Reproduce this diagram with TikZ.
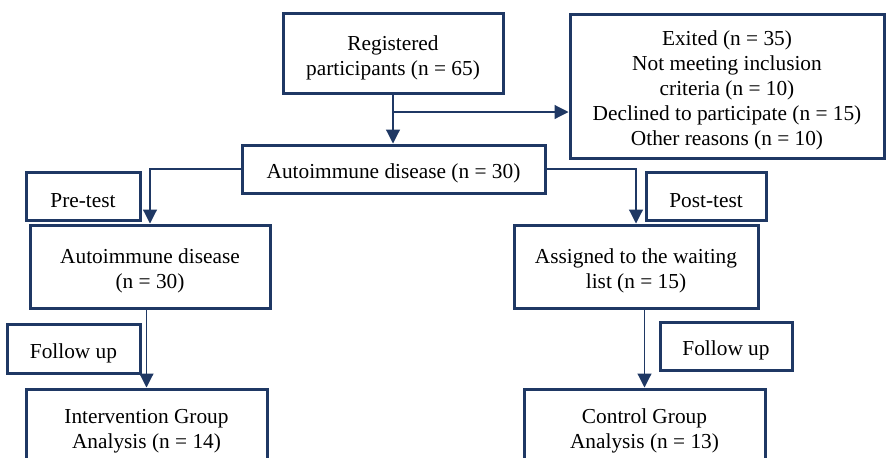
\documentclass[tikz,border=0pt]{standalone}
\usepackage{fontspec}
\setmainfont{Liberation Serif}
\usetikzlibrary{arrows.meta}
\newcommand\tstrut{\rule{0pt}{14.5pt}}
\tikzset{
  box/.style = {draw = navy, line width = 1.8pt, align = center, inner sep = 0pt, font = \fontsize{12.8pt}{15pt}\selectfont},
  arr/.style = {draw = navy, line width = 0.7pt, -{Triangle[width = 8.4pt, length = 8.4pt]}}
}
\begin{document}
\begin{tikzpicture}[x = 0.6pt, y = -0.6pt]
\definecolor{navy}{HTML}{1F3864}
\useasboundingbox (0, 0) rectangle (886, 457);
\node[box, minimum width = 132pt, minimum height = 48pt] (reg) at (393, 53) {\tstrut Registered\\participants (n = 65)};
\node[box, minimum width = 188.4pt, minimum height = 86.4pt] (exit) at (727, 86) {\tstrut Exited (n = 35)\\Not meeting inclusion\\criteria (n = 10)\\Declined to participate (n = 15)\\Other reasons (n = 10)};
\node[box, minimum width = 181.8pt, minimum height = 28.8pt] (auto) at (393.5, 169) {\tstrut Autoimmune disease (n = 30)};
\node[box, minimum width = 68.4pt, minimum height = 28.8pt] (pre) at (83, 196) {\tstrut Pre-test};
\node[box, minimum width = 72pt, minimum height = 28.8pt] (post) at (706, 196) {\tstrut Post-test};
\node[box, minimum width = 144pt, minimum height = 49.8pt] (autoL) at (150, 266.5) {\tstrut Autoimmune disease\\(n = 30)};
\node[box, minimum width = 146.4pt, minimum height = 49.8pt] (wait) at (636, 266.5) {\tstrut Assigned to the waiting\\list (n = 15)};
\node[box, minimum width = 79.8pt, minimum height = 29.4pt] (fupL) at (73.5, 348.5) {\tstrut Follow up};
\node[box, minimum width = 79.2pt, minimum height = 28.8pt] (fupR) at (726, 346) {\tstrut Follow up};
\node[box, minimum width = 144.6pt, minimum height = 44.4pt] (interv) at (146.5, 426) {\tstrut Intervention Group\\Analysis (n = 14)};
\node[box, minimum width = 144.6pt, minimum height = 44.4pt] (ctrl) at (644.5, 426) {\tstrut Control Group\\Analysis (n = 13)};
\coordinate (split) at (393, 112);
\draw[arr] (reg.south) -- (reg.south |- auto.north);
\draw[arr] (split) -- (split -| exit.west);
\draw[arr] (auto.west) -| (autoL.north);
\draw[arr] (auto.east) -| (wait.north);
\draw[arr] (interv.north |- autoL.south) -- (interv.north);
\draw[arr] (ctrl.north |- wait.south) -- (ctrl.north);
\end{tikzpicture}
\end{document}
